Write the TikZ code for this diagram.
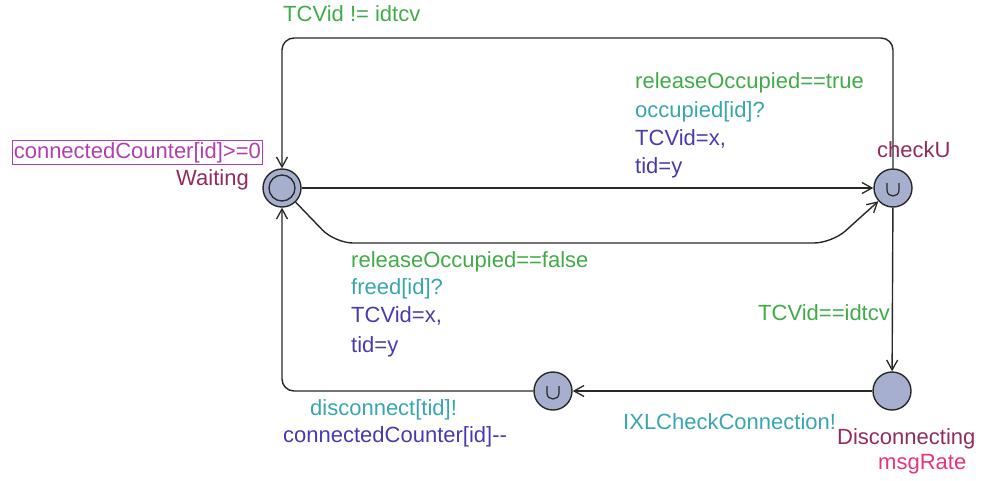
\documentclass[tikz,border=0pt]{standalone}
\usepackage{fontspec}
\setmainfont{Liberation Sans}
\usetikzlibrary{arrows.meta,calc}
\definecolor{guardc}{RGB}{64,172,72}
\definecolor{syncc}{RGB}{56,166,178}
\definecolor{updc}{RGB}{70,60,176}
\definecolor{namec}{RGB}{146,44,92}
\definecolor{invc}{RGB}{176,64,176}
\definecolor{ratec}{RGB}{232,52,120}
\definecolor{locfill}{RGB}{166,175,205}
\definecolor{linec}{RGB}{40,40,40}
\newcommand\commitU[1]{%
  \draw[line width=1.2pt,linec] ($(#1)+(-6,-5)$) -- ($(#1)+(-6,2)$)
    .. controls ($(#1)+(-6,10)$) and ($(#1)+(6,10)$) .. ($(#1)+(6,2)$) -- ($(#1)+(6,-5)$);}
\begin{document}
\begin{tikzpicture}[x=1pt,y=-1pt,
  every node/.style={font=\fontsize{22}{26}\selectfont},
  loc/.style={circle,draw=linec,line width=1.4pt,fill=locfill,minimum size=38pt,inner sep=0pt},
  edge/.style={draw=linec,line width=1.4pt,-{Straight Barb[length=10pt,width=11pt,line width=1.3pt]}},
  lbl/.style={inner sep=0pt,anchor=base west},
  guard/.style={lbl,text=guardc},
  sync/.style={lbl,text=syncc},
  upd/.style={lbl,text=updc},
  lname/.style={lbl,text=namec}]
\useasboundingbox (0,0) rectangle (981,480);
% locations
\node[loc] (w) at (282,188) {};
\draw[linec,line width=1.3pt] (w.center) circle[radius=13];
\node[loc] (c) at (893,188) {};
\node[loc] (d) at (892,391) {};
\node[loc] (k) at (553,391) {};
\commitU{c}
\commitU{k}
% corner coordinates
\coordinate (tr) at (893,38);
\coordinate (tl) at (282,38);
\coordinate (l1) at (335,243);
\coordinate (l2) at (832,243);
\coordinate (bl) at (282,391);
% edges
\draw[edge,rounded corners=12pt] (c) -- (tr) -- (tl) -- (w);
\draw[edge] (w) -- (c);
\draw[edge,rounded corners=18pt] (w) -- (l1) -- (l2) -- (c);
\draw[edge] (c) -- (d);
\draw[edge] (d) -- (k);
\draw[edge,rounded corners=12pt] (k) -- (bl) -- (w);
% location labels
\node[lname] (wn) at (176,185) {Waiting};
\node[lbl,text=invc,draw=invc,line width=0.6pt,inner sep=1.5pt] (winv) at (12,158) {connectedCounter[id]>=0};
\node[lname] (cn) at (877,157) {checkU};
\node[lname] (dn) at (837,444) {Disconnecting};
\node[lbl,text=ratec] (dr) at (878,469) {msgRate};
% edge labels
\node[guard] (g1) at (283,21) {TCVid != idtcv};
\node[guard] (g2) at (635,88) {releaseOccupied==true};
\node[sync] (s2) at (635,117) {occupied[id]?};
\node[upd] (u2a) at (635,145) {TCVid=x,};
\node[upd] (u2b) at (635,173) {tid=y};
\node[guard] (g3) at (351,267) {releaseOccupied==false};
\node[sync] (s3) at (351,294) {freed[id]?};
\node[upd] (u3a) at (351,322) {TCVid=x,};
\node[upd] (u3b) at (351,352) {tid=y};
\node[guard] (g4) at (758,320) {TCVid==idtcv};
\node[sync] (s5) at (623,429) {IXLCheckConnection!};
\node[sync] (s6) at (310,415) {disconnect[tid]!};
\node[upd] (u6) at (283,442) {connectedCounter[id]\mbox{-}\mbox{-}};
\end{tikzpicture}
\end{document}
